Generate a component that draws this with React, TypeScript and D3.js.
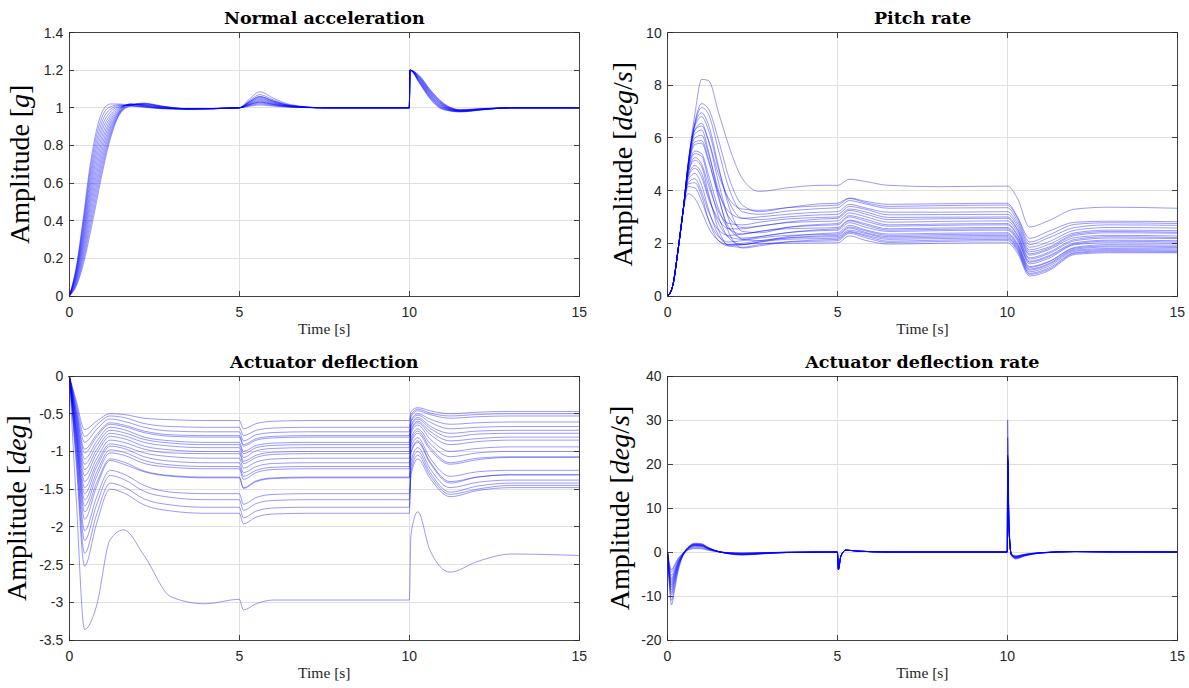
import React from 'react';
import * as d3 from 'd3';

// time ticks shared by every panel
const timeTicks = [0, 5, 10, 15];

// ---- Normal acceleration [g] ----
const accTicks = [0, 0.2, 0.4, 0.6, 0.8, 1, 1.2, 1.4];
const accTime = [0, 0.2, 0.4, 0.6, 0.8, 1.0, 1.2, 1.5, 1.8, 2.2, 2.7, 3.5, 5, 5.3, 5.6, 6.0, 6.5, 7.5, 10, 10.02, 10.3, 10.6, 11.0, 11.5, 12.2, 13, 15];
const accRuns = [
    [0, 0.15, 0.40, 0.68, 0.88, 0.99, 1.02, 1.02, 1.01, 1.003, 0.995, 0.993, 1, 1.047, 1.085, 1.051, 1.017, 1, 1, 1.2, 1.13, 1.05, 0.99, 0.978, 0.99, 1, 1],
    [0, 0.142, 0.382, 0.652, 0.851, 0.966, 1.005, 1.016, 1.01, 1.005, 0.996, 0.993, 1, 1.033, 1.06, 1.036, 1.012, 1, 1, 1.2, 1.133, 1.054, 0.993, 0.979, 0.99, 1, 1],
    [0, 0.135, 0.363, 0.625, 0.821, 0.942, 0.991, 1.012, 1.012, 1.006, 0.997, 0.993, 1, 1.028, 1.05, 1.03, 1.01, 1, 1, 1.2, 1.136, 1.058, 0.995, 0.98, 0.991, 1, 1],
    [0, 0.127, 0.345, 0.597, 0.792, 0.918, 0.976, 1.008, 1.014, 1.008, 0.998, 0.994, 1, 1.039, 1.07, 1.042, 1.014, 1, 1, 1.2, 1.139, 1.062, 0.998, 0.981, 0.991, 1, 1],
    [0, 0.119, 0.326, 0.569, 0.763, 0.895, 0.961, 1.005, 1.016, 1.01, 0.999, 0.994, 1, 1.022, 1.04, 1.024, 1.008, 1, 1, 1.2, 1.142, 1.065, 1.001, 0.982, 0.992, 1, 1],
    [0, 0.112, 0.308, 0.541, 0.734, 0.871, 0.947, 1.001, 1.018, 1.011, 1.0, 0.994, 1, 1.03, 1.055, 1.033, 1.011, 1, 1, 1.2, 1.145, 1.069, 1.003, 0.983, 0.992, 1, 1],
    [0, 0.104, 0.289, 0.514, 0.704, 0.847, 0.932, 0.997, 1.02, 1.013, 1.002, 0.994, 1, 1.017, 1.03, 1.018, 1.006, 1, 1, 1.2, 1.148, 1.073, 1.006, 0.984, 0.993, 1, 1],
    [0, 0.096, 0.271, 0.486, 0.675, 0.823, 0.918, 0.993, 1.02, 1.015, 1.003, 0.994, 1, 1.025, 1.045, 1.027, 1.009, 1, 1, 1.2, 1.152, 1.077, 1.009, 0.984, 0.993, 1, 1],
    [0, 0.088, 0.252, 0.459, 0.646, 0.799, 0.903, 0.989, 1.02, 1.016, 1.004, 0.994, 1, 1.019, 1.035, 1.021, 1.007, 1, 1, 1.2, 1.155, 1.081, 1.012, 0.985, 0.994, 1, 1],
    [0, 0.081, 0.234, 0.431, 0.617, 0.775, 0.889, 0.985, 1.018, 1.018, 1.005, 0.995, 1, 1.014, 1.025, 1.015, 1.005, 1, 1, 1.2, 1.158, 1.085, 1.014, 0.986, 0.994, 1, 1],
    [0, 0.073, 0.215, 0.403, 0.588, 0.752, 0.874, 0.982, 1.016, 1.02, 1.007, 0.995, 1, 1.033, 1.06, 1.036, 1.012, 1, 1, 1.2, 1.161, 1.088, 1.017, 0.987, 0.995, 1, 1],
    [0, 0.065, 0.197, 0.375, 0.559, 0.728, 0.859, 0.978, 1.014, 1.021, 1.008, 0.995, 1, 1.011, 1.02, 1.012, 1.004, 1, 1, 1.2, 1.164, 1.092, 1.02, 0.988, 0.995, 1, 1],
    [0, 0.058, 0.178, 0.348, 0.529, 0.704, 0.845, 0.974, 1.012, 1.023, 1.009, 0.995, 1, 1.017, 1.03, 1.018, 1.006, 1, 1, 1.2, 1.167, 1.096, 1.022, 0.989, 0.996, 1, 1],
    [0, 0.05, 0.16, 0.32, 0.50, 0.68, 0.83, 0.97, 1.01, 1.025, 1.01, 0.995, 1, 1.008, 1.015, 1.009, 1.003, 1, 1, 1.2, 1.17, 1.10, 1.025, 0.99, 0.996, 1, 1],
];

// ---- Pitch rate [deg/s] ----
const pitchTicks = [0, 2, 4, 6, 8, 10];
const pitchTime = [0, 0.15, 0.3, 0.45, 0.6, 0.8, 1.0, 1.2, 1.5, 1.8, 2.2, 2.7, 3.5, 4.5, 5, 5.35, 5.8, 6.5, 8, 10, 10.3, 10.65, 11.2, 12, 13, 15];
const pitchRuns = [
    [0, 0.4, 1.7, 3.2, 5.0, 6.9, 8.22, 8.18, 6.95, 5.7, 4.45, 3.97, 4.1, 4.2, 4.2, 4.43, 4.35, 4.2, 4.15, 4.17, 3.7, 2.62, 2.85, 3.3, 3.37, 3.33],
    [0, 0.4, 1.7, 3.2, 5.0, 6.6, 7.3, 7.1, 5.9, 4.5, 3.45, 3.2, 3.35, 3.5, 3.52, 3.72, 3.6, 3.48, 3.5, 3.52, 3.0, 2.19, 2.45, 2.8, 2.84, 2.82],
    [0, 0.4, 1.7, 3.2, 4.9, 6.3, 6.45, 5.9, 4.6, 3.7, 3.3, 3.25, 3.35, 3.42, 3.45, 3.7, 3.55, 3.4, 3.43, 3.45, 2.95, 2.05, 2.3, 2.72, 2.78, 2.75],
    [0, 0.4, 1.7, 3.2, 5.0, 6.55, 7.15, 6.9, 5.5, 4.1, 3.2, 3.1, 3.22, 3.32, 3.35, 3.62, 3.5, 3.33, 3.34, 3.35, 2.85, 1.95, 2.2, 2.6, 2.7, 2.68],
    [0, 0.4, 1.7, 3.2, 4.8, 5.75, 5.8, 5.1, 3.9, 3.2, 2.95, 3.0, 3.1, 3.18, 3.2, 3.48, 3.35, 3.18, 3.18, 3.2, 2.75, 1.85, 2.05, 2.5, 2.6, 2.58],
    [0, 0.4, 1.7, 3.2, 4.95, 6.45, 6.8, 6.3, 4.8, 3.6, 2.95, 2.9, 3.0, 3.08, 3.1, 3.4, 3.3, 3.08, 3.09, 3.1, 2.65, 1.75, 1.95, 2.4, 2.5, 2.48],
    [0, 0.4, 1.7, 3.2, 4.6, 5.25, 5.0, 4.2, 3.2, 2.75, 2.7, 2.8, 2.92, 2.98, 3.0, 3.3, 3.2, 2.98, 2.99, 3.0, 2.55, 1.68, 1.85, 2.35, 2.45, 2.42],
    [0, 0.4, 1.7, 3.2, 4.85, 6.0, 6.1, 5.4, 4.0, 3.0, 2.6, 2.65, 2.8, 2.92, 2.95, 3.25, 3.12, 2.9, 2.93, 2.95, 2.5, 1.6, 1.8, 2.3, 2.4, 2.38],
    [0, 0.4, 1.7, 3.2, 4.5, 4.85, 4.5, 3.7, 2.9, 2.55, 2.55, 2.65, 2.78, 2.83, 2.85, 3.15, 3.02, 2.8, 2.83, 2.85, 2.42, 1.55, 1.75, 2.22, 2.3, 2.28],
    [0, 0.4, 1.7, 3.2, 5.0, 6.5, 6.95, 6.5, 4.9, 3.4, 2.45, 2.4, 2.6, 2.72, 2.75, 3.05, 2.92, 2.7, 2.73, 2.75, 2.32, 1.45, 1.65, 2.15, 2.25, 2.22],
    [0, 0.4, 1.7, 3.2, 4.75, 5.5, 5.4, 4.6, 3.3, 2.55, 2.35, 2.45, 2.6, 2.68, 2.7, 3.0, 2.85, 2.65, 2.68, 2.7, 2.28, 1.4, 1.6, 2.1, 2.2, 2.18],
    [0, 0.4, 1.7, 3.2, 4.3, 4.45, 3.95, 3.2, 2.5, 2.3, 2.35, 2.45, 2.55, 2.58, 2.6, 2.88, 2.75, 2.55, 2.58, 2.6, 2.2, 1.32, 1.52, 2.02, 2.12, 2.1],
    [0, 0.4, 1.7, 3.2, 4.85, 5.85, 5.9, 5.2, 3.7, 2.6, 2.2, 2.25, 2.4, 2.52, 2.55, 2.85, 2.7, 2.5, 2.53, 2.55, 2.15, 1.28, 1.48, 1.98, 2.08, 2.05],
    [0, 0.4, 1.7, 3.2, 4.55, 4.95, 4.65, 3.8, 2.75, 2.25, 2.15, 2.25, 2.4, 2.48, 2.5, 2.78, 2.62, 2.45, 2.48, 2.5, 2.1, 1.22, 1.42, 1.95, 2.02, 2.0],
    [0, 0.4, 1.7, 3.2, 4.95, 6.3, 6.55, 5.9, 4.3, 2.9, 2.15, 2.1, 2.25, 2.37, 2.4, 2.68, 2.52, 2.35, 2.38, 2.4, 2.0, 1.12, 1.3, 1.85, 1.95, 1.93],
    [0, 0.4, 1.7, 3.2, 4.15, 4.1, 3.6, 2.9, 2.25, 2.05, 2.1, 2.2, 2.3, 2.33, 2.35, 2.62, 2.48, 2.3, 2.33, 2.35, 1.95, 1.08, 1.28, 1.82, 1.9, 1.88],
    [0, 0.4, 1.7, 3.2, 4.7, 5.4, 5.3, 4.4, 3.0, 2.2, 1.95, 2.05, 2.2, 2.28, 2.3, 2.58, 2.42, 2.25, 2.28, 2.3, 1.9, 1.02, 1.22, 1.78, 1.86, 1.84],
    [0, 0.4, 1.7, 3.2, 3.88, 3.7, 3.2, 2.6, 2.1, 1.95, 2.0, 2.1, 2.2, 2.24, 2.25, 2.5, 2.38, 2.2, 2.23, 2.25, 1.85, 0.98, 1.18, 1.74, 1.8, 1.79],
    [0, 0.4, 1.7, 3.2, 4.4, 4.65, 4.2, 3.3, 2.3, 1.95, 1.95, 2.05, 2.15, 2.18, 2.2, 2.45, 2.32, 2.15, 2.18, 2.2, 1.8, 0.92, 1.12, 1.7, 1.76, 1.74],
    [0, 0.4, 1.7, 3.2, 4.9, 6.15, 6.3, 5.5, 3.8, 2.4, 1.82, 1.9, 2.05, 2.13, 2.15, 2.42, 2.28, 2.08, 2.12, 2.15, 1.75, 0.86, 1.05, 1.65, 1.72, 1.7],
    [0, 0.4, 1.7, 3.2, 4.65, 5.15, 4.9, 3.9, 2.5, 1.9, 1.85, 1.95, 2.05, 2.08, 2.1, 2.38, 2.22, 2.03, 2.07, 2.1, 1.7, 0.82, 1.0, 1.62, 1.68, 1.67],
    [0, 0.4, 1.7, 3.2, 4.25, 4.3, 3.8, 2.9, 2.1, 1.9, 1.95, 2.0, 2.0, 2.01, 2.02, 2.28, 2.12, 1.97, 2.0, 2.02, 1.62, 0.76, 0.95, 1.58, 1.64, 1.64],
];

// ---- Actuator deflection [deg] ----
const defTicks = [-3.5, -3, -2.5, -2, -1.5, -1, -0.5, 0];
const defTime = [0, 0.2, 0.45, 0.8, 1.2, 1.6, 2.2, 3, 4, 5, 5.12, 5.5, 6, 7, 10, 10.05, 10.25, 10.6, 11.2, 12, 13, 15];
const defRuns = [
    [0, -0.32, -0.71, -0.60, -0.50, -0.51, -0.56, -0.58, -0.59, -0.59, -0.70, -0.63, -0.60, -0.59, -0.59, -0.47, -0.42, -0.46, -0.50, -0.48, -0.47, -0.47],
    [0, -0.36, -0.80, -0.65, -0.53, -0.55, -0.63, -0.67, -0.68, -0.68, -0.79, -0.72, -0.69, -0.68, -0.68, -0.51, -0.44, -0.49, -0.53, -0.51, -0.50, -0.50],
    [0, -0.40, -0.88, -0.71, -0.57, -0.60, -0.68, -0.73, -0.74, -0.74, -0.86, -0.78, -0.75, -0.74, -0.74, -0.54, -0.46, -0.51, -0.56, -0.54, -0.53, -0.53],
    [0, -0.44, -0.97, -0.78, -0.62, -0.65, -0.73, -0.78, -0.79, -0.79, -0.91, -0.83, -0.80, -0.79, -0.79, -0.59, -0.50, -0.57, -0.64, -0.62, -0.61, -0.61],
    [0, -0.46, -1.02, -0.81, -0.64, -0.67, -0.75, -0.80, -0.81, -0.81, -0.93, -0.85, -0.82, -0.81, -0.81, -0.61, -0.52, -0.61, -0.70, -0.68, -0.67, -0.67],
    [0, -0.50, -1.10, -0.87, -0.68, -0.71, -0.81, -0.86, -0.88, -0.88, -1.00, -0.92, -0.89, -0.88, -0.88, -0.65, -0.55, -0.66, -0.76, -0.73, -0.72, -0.72],
    [0, -0.53, -1.17, -0.92, -0.72, -0.75, -0.84, -0.89, -0.91, -0.91, -1.03, -0.95, -0.92, -0.91, -0.91, -0.67, -0.57, -0.69, -0.81, -0.77, -0.76, -0.76],
    [0, -0.56, -1.24, -0.98, -0.76, -0.79, -0.88, -0.93, -0.95, -0.95, -1.08, -0.99, -0.96, -0.95, -0.95, -0.71, -0.60, -0.73, -0.86, -0.83, -0.81, -0.81],
    [0, -0.59, -1.32, -1.03, -0.80, -0.83, -0.93, -0.98, -1.00, -1.00, -1.13, -1.05, -1.01, -1.00, -1.00, -0.73, -0.62, -0.77, -0.91, -0.87, -0.85, -0.85],
    [0, -0.63, -1.40, -1.10, -0.85, -0.88, -0.97, -1.02, -1.03, -1.03, -1.16, -1.08, -1.04, -1.03, -1.03, -0.76, -0.65, -0.83, -1.00, -0.96, -0.94, -0.94],
    [0, -0.67, -1.48, -1.16, -0.90, -0.93, -1.02, -1.07, -1.09, -1.09, -1.22, -1.14, -1.10, -1.09, -1.09, -0.82, -0.70, -0.89, -1.07, -1.02, -1.00, -1.00],
    [0, -0.70, -1.56, -1.21, -0.93, -0.96, -1.07, -1.13, -1.15, -1.15, -1.28, -1.20, -1.16, -1.15, -1.15, -0.86, -0.73, -0.94, -1.15, -1.09, -1.07, -1.07],
    [0, -0.74, -1.64, -1.28, -0.98, -1.01, -1.12, -1.18, -1.20, -1.20, -1.33, -1.25, -1.21, -1.20, -1.20, -0.89, -0.76, -0.97, -1.17, -1.11, -1.08, -1.08],
    [0, -0.77, -1.72, -1.34, -1.02, -1.05, -1.16, -1.21, -1.23, -1.23, -1.37, -1.28, -1.24, -1.23, -1.23, -0.94, -0.82, -1.08, -1.33, -1.27, -1.25, -1.25],
    [0, -0.81, -1.80, -1.42, -1.10, -1.14, -1.26, -1.32, -1.34, -1.34, -1.48, -1.39, -1.35, -1.34, -1.34, -1.00, -0.86, -1.13, -1.40, -1.34, -1.31, -1.31],
    [0, -0.86, -1.90, -1.47, -1.12, -1.17, -1.27, -1.33, -1.35, -1.35, -1.49, -1.40, -1.36, -1.35, -1.35, -1.02, -0.88, -1.15, -1.42, -1.34, -1.31, -1.31],
    [0, -0.92, -2.05, -1.61, -1.25, -1.30, -1.45, -1.54, -1.56, -1.56, -1.70, -1.61, -1.57, -1.56, -1.56, -1.13, -0.95, -1.22, -1.48, -1.41, -1.38, -1.38],
    [0, -0.98, -2.18, -1.71, -1.32, -1.37, -1.53, -1.61, -1.64, -1.64, -1.78, -1.69, -1.65, -1.64, -1.64, -1.19, -1.00, -1.27, -1.54, -1.46, -1.42, -1.42],
    [0, -1.06, -2.35, -1.84, -1.42, -1.47, -1.63, -1.71, -1.74, -1.74, -1.88, -1.79, -1.75, -1.74, -1.74, -1.26, -1.05, -1.31, -1.57, -1.50, -1.45, -1.45],
    [0, -1.13, -2.52, -1.96, -1.50, -1.55, -1.71, -1.79, -1.82, -1.82, -1.96, -1.87, -1.83, -1.82, -1.82, -1.31, -1.10, -1.35, -1.60, -1.52, -1.48, -1.48],
    [0, -1.6, -3.36, -3.05, -2.17, -2.04, -2.38, -2.93, -3.02, -2.96, -3.10, -3.02, -2.97, -2.97, -2.97, -2.10, -1.80, -2.30, -2.60, -2.46, -2.36, -2.38],
];

// ---- Actuator deflection rate [deg/s] ----
const rateTicks = [-20, -10, 0, 10, 20, 30, 40];
const rateTime = [0, 0.05, 0.12, 0.2, 0.3, 0.45, 0.6, 0.8, 1.0, 1.2, 1.5, 1.8, 2.2, 2.8, 3.5, 5, 5.03, 5.1, 5.25, 5.6, 6.5, 10, 10.01, 10.05, 10.12, 10.25, 10.5, 11, 12, 13, 15];
const rateRuns = [
    [0, -7.2, -12, -9, -4.8, -0.96, 0.4, 0.76, 0.72, 0.4, 0.04, -0.12, -0.2, -0.12, -0.04, 0, -4.1, -1.03, 0.42, 0.2, 0, 0, 21, 5.25, -0.8, -1.6, -0.96, -0.24, 0.1, 0.03, 0],
    [0, -6.6, -11, -8.25, -4.4, -0.88, 0.5, 0.95, 0.9, 0.5, 0.05, -0.18, -0.3, -0.18, -0.06, 0, -4.0, -1.0, 0.42, 0.2, 0, 0, 30, 7.5, -0.75, -1.5, -0.9, -0.23, 0.1, 0.03, 0],
    [0, -5.8, -9.7, -7.3, -3.9, -0.78, 0.6, 1.14, 1.08, 0.6, 0.06, -0.24, -0.4, -0.24, -0.08, 0, -4.0, -1.0, 0.42, 0.2, 0, 0, 22, 5.5, -0.7, -1.4, -0.84, -0.21, 0.1, 0.03, 0],
    [0, -5.5, -9.2, -6.9, -3.7, -0.74, 0.7, 1.33, 1.26, 0.7, 0.07, -0.3, -0.5, -0.3, -0.1, 0, -3.9, -0.98, 0.42, 0.2, 0, 0, 21, 5.25, -0.65, -1.3, -0.78, -0.2, 0.1, 0.03, 0],
    [0, -5.2, -8.6, -6.45, -3.44, -0.69, 0.75, 1.43, 1.35, 0.75, 0.08, -0.33, -0.55, -0.33, -0.11, 0, -4.1, -1.03, 0.42, 0.2, 0, 0, 26, 6.5, -0.65, -1.3, -0.78, -0.2, 0.1, 0.03, 0],
    [0, -4.8, -8.0, -6.0, -3.2, -0.64, 0.8, 1.52, 1.44, 0.8, 0.08, -0.36, -0.6, -0.36, -0.12, 0, -3.9, -0.98, 0.42, 0.2, 0, 0, 21.5, 5.4, -0.6, -1.2, -0.72, -0.18, 0.1, 0.03, 0],
    [0, -4.5, -7.5, -5.6, -3.0, -0.6, 0.85, 1.62, 1.53, 0.85, 0.09, -0.39, -0.65, -0.39, -0.13, 0, -3.8, -0.95, 0.42, 0.2, 0, 0, 21, 5.25, -0.6, -1.2, -0.72, -0.18, 0.1, 0.03, 0],
    [0, -4.2, -7.0, -5.25, -2.8, -0.56, 0.9, 1.71, 1.62, 0.9, 0.09, -0.42, -0.7, -0.42, -0.14, 0, -4.0, -1.0, 0.42, 0.2, 0, 0, 22, 5.5, -0.55, -1.1, -0.66, -0.17, 0.1, 0.03, 0],
    [0, -3.9, -6.5, -4.9, -2.6, -0.52, 0.95, 1.8, 1.71, 0.95, 0.1, -0.36, -0.6, -0.36, -0.12, 0, -3.9, -0.98, 0.42, 0.2, 0, 0, 21, 5.25, -0.55, -1.1, -0.66, -0.17, 0.1, 0.03, 0],
    [0, -3.6, -6.0, -4.5, -2.4, -0.48, 1.0, 1.9, 1.8, 1.0, 0.1, -0.3, -0.5, -0.3, -0.1, 0, -3.8, -0.95, 0.42, 0.2, 0, 0, 20.5, 5.1, -0.5, -1.0, -0.6, -0.15, 0.1, 0.03, 0],
    [0, -3.2, -5.3, -4.0, -2.1, -0.42, 1.05, 2.0, 1.89, 1.05, 0.1, -0.24, -0.4, -0.24, -0.08, 0, -4.0, -1.0, 0.42, 0.2, 0, 0, 21, 5.25, -0.5, -1.0, -0.6, -0.15, 0.1, 0.03, 0],
    [0, -2.7, -4.5, -3.4, -1.8, -0.36, 0.9, 1.71, 1.62, 0.9, 0.09, -0.18, -0.3, -0.18, -0.06, 0, -3.7, -0.93, 0.42, 0.2, 0, 0, 20, 5.0, -0.45, -0.9, -0.54, -0.14, 0.1, 0.03, 0],
    [0, -2.4, -4.0, -3.0, -1.6, -0.32, 0.8, 1.52, 1.44, 0.8, 0.08, -0.18, -0.3, -0.18, -0.06, 0, -3.6, -0.9, 0.42, 0.2, 0, 0, 21, 5.25, -0.45, -0.9, -0.54, -0.14, 0.1, 0.03, 0],
];

const axisColor = '#262626';
const gridColor = '#e0e0e0';
const tickFont = '"Liberation Sans", Arial, sans-serif';
const serif = '"Liberation Serif", "Times New Roman", serif';

type PanelProps = {
    left: number;
    top: number;
    width: number;
    height: number;
    title: string;
    unit: string;
    labelX: number;
    yDomain: [number, number];
    yTicks: number[];
    time: number[];
    runs: number[][];
};

function Panel(p: PanelProps) {
    const x = d3.scaleLinear().domain([0, 15]).range([p.left, p.left + p.width]);
    const y = d3.scaleLinear().domain(p.yDomain).range([p.top + p.height, p.top]);
    const line = d3
        .line<number>()
        .x((_, i) => x(p.time[i]))
        .y((d) => y(d))
        .curve(d3.curveMonotoneX);

    const right = p.left + p.width;
    const bottom = p.top + p.height;
    const midX = p.left + p.width / 2;
    const midY = p.top + p.height / 2;
    const tl = 5; // inward tick length

    return (
        <g>
            {/* grid */}
            <g shapeRendering="crispEdges" stroke={gridColor}>
                {timeTicks.map((t) => (
                    <line key={'gx' + t} x1={x(t)} x2={x(t)} y1={p.top} y2={bottom} />
                ))}
                {p.yTicks.map((v) => (
                    <line key={'gy' + v} x1={p.left} x2={right} y1={y(v)} y2={y(v)} />
                ))}
            </g>

            {/* runs */}
            <g fill="none" stroke="#0000ff" strokeOpacity={0.4} strokeWidth={1}>
                {p.runs.map((r, i) => (
                    <path key={i} d={line(r) || ''} />
                ))}
            </g>

            {/* box + ticks */}
            <g shapeRendering="crispEdges" stroke={axisColor} strokeOpacity={0.85}>
                <rect x={p.left} y={p.top} width={p.width} height={p.height} fill="none" />
                {timeTicks.map((t) => (
                    <g key={'tx' + t}>
                        <line x1={x(t)} x2={x(t)} y1={bottom} y2={bottom - tl} />
                        <line x1={x(t)} x2={x(t)} y1={p.top} y2={p.top + tl} />
                    </g>
                ))}
                {p.yTicks.map((v) => (
                    <g key={'ty' + v}>
                        <line x1={p.left} x2={p.left + tl} y1={y(v)} y2={y(v)} />
                        <line x1={right} x2={right - tl} y1={y(v)} y2={y(v)} />
                    </g>
                ))}
            </g>

            {/* tick labels */}
            <g fontFamily={tickFont} fontSize={14} fill={axisColor}>
                {timeTicks.map((t) => (
                    <text key={'lx' + t} x={x(t)} y={bottom + 21} textAnchor="middle">
                        {String(t)}
                    </text>
                ))}
                {p.yTicks.map((v) => (
                    <text key={'ly' + v} x={p.left - 6} y={y(v)} dy="0.36em" textAnchor="end">
                        {String(v)}
                    </text>
                ))}
            </g>

            {/* title */}
            <text
                x={midX}
                y={p.top - 8.5}
                textAnchor="middle"
                fontFamily='"DejaVu Serif", serif'
                fontWeight="bold"
                fontSize={17.5}
                fill="#000"
            >
                {p.title}
            </text>

            {/* x label */}
            <text x={midX} y={bottom + 38} textAnchor="middle" fontFamily={serif} fontSize={15.5} fill="#262626">
                Time [s]
            </text>

            {/* y label */}
            <text
                transform={`translate(${p.labelX},${midY}) rotate(-90)`}
                textAnchor="middle"
                fontFamily={serif}
                fontSize={28}
                fill="#000"
            >
                Amplitude [
                {p.unit.split('/').map((u, i) => (
                    <React.Fragment key={i}>
                        {i > 0 ? '/' : ''}
                        <tspan fontStyle="italic">{u}</tspan>
                    </React.Fragment>
                ))}
                ]
            </text>
        </g>
    );
}

export default function App() {
    return (
        <svg
            width={1189}
            height={688}
            style={{ position: 'absolute', left: 0, top: 0, background: '#fff' }}
        >
            <Panel
                left={69.3}
                top={32.5}
                width={510}
                height={263.5}
                title="Normal acceleration"
                unit="g"
                labelX={28.5}
                yDomain={[0, 1.4]}
                yTicks={accTicks}
                time={accTime}
                runs={accRuns}
            />
            <Panel
                left={667.7}
                top={32.5}
                width={509.5}
                height={263.5}
                title="Pitch rate"
                unit="deg/s"
                labelX={632}
                yDomain={[0, 10]}
                yTicks={pitchTicks}
                time={pitchTime}
                runs={pitchRuns}
            />
            <Panel
                left={69.3}
                top={376}
                width={510}
                height={264}
                title="Actuator deflection"
                unit="deg"
                labelX={25.5}
                yDomain={[-3.5, 0]}
                yTicks={defTicks}
                time={defTime}
                runs={defRuns}
            />
            <Panel
                left={667.5}
                top={376}
                width={509.7}
                height={264}
                title="Actuator deflection rate"
                unit="deg/s"
                labelX={629}
                yDomain={[-20, 40]}
                yTicks={rateTicks}
                time={rateTime}
                runs={rateRuns}
            />
        </svg>
    );
}
